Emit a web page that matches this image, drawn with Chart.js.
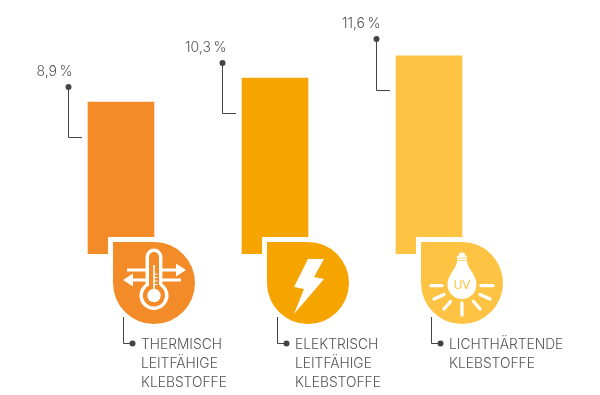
<!DOCTYPE html>
<html>
<head>
<meta charset="utf-8">
<style>
  html, body { margin: 0; padding: 0; background: #fff; }
  canvas { display: block; }
</style>
<script src="https://cdn.jsdelivr.net/npm/chart.js@4"></script>
</head>
<body>
<canvas id="chart" width="600" height="395"></canvas>
<script>
const categories = ["Thermisch leitfähige Klebstoffe", "Elektrisch leitfähige Klebstoffe", "Lichthärtende Klebstoffe"];
const shares = [8.9, 10.3, 11.6];
const valueLabels = ["8,9 %", "10,3 %", "11,6 %"];
const categoryLines = [
  ["THERMISCH", "LEITFÄHIGE", "KLEBSTOFFE"],
  ["ELEKTRISCH", "LEITFÄHIGE", "KLEBSTOFFE"],
  ["LICHTHÄRTENDE", "KLEBSTOFFE"]
];
const barColors = ["#F38B28", "#F6A400", "#FEC343"];
const iconNames = ["thermo", "bolt", "bulb"];

const textColor = "#555555";
const lineColor = "#444444";
const textFont = "300 13.8px Inter";
const valueFont = "300 14px Inter";

function drawThermo(ctx, color) {
  ctx.strokeStyle = "#fff";
  ctx.fillStyle = "#fff";
  ctx.lineWidth = 3;
  // top arrow to the right, bottom arrow to the left
  ctx.beginPath();
  ctx.moveTo(-27, -13); ctx.lineTo(24, -13);
  ctx.moveTo(27, -3); ctx.lineTo(-24, -3);
  ctx.stroke();
  ctx.beginPath();
  ctx.moveTo(22, -19.5); ctx.lineTo(32, -13); ctx.lineTo(22, -6.5); ctx.closePath();
  ctx.moveTo(-21, -9.5); ctx.lineTo(-31, -3); ctx.lineTo(-21, 3.5); ctx.closePath();
  ctx.fill();
  // thermometer body
  ctx.lineWidth = 3.4;
  ctx.beginPath();
  ctx.arc(0, -26, 6.7, Math.PI, 0);
  ctx.lineTo(6.7, 2);
  ctx.arc(0, 12.5, 12.8, -Math.PI / 2 + 0.55, -Math.PI / 2 - 0.55 + Math.PI * 2);
  ctx.closePath();
  ctx.fillStyle = color;
  ctx.fill();
  ctx.stroke();
  ctx.fillStyle = "#fff";
  ctx.beginPath();
  ctx.arc(0, 12.5, 6.7, 0, Math.PI * 2);
  ctx.fill();
  ctx.fillRect(-0.8, -18, 1.6, 28);
  ctx.lineWidth = 1;
  ctx.beginPath();
  [-9, -5.5, -2, 1.5].forEach((y) => { ctx.moveTo(0, y); ctx.lineTo(3.5, y); });
  ctx.stroke();
}

function drawBolt(ctx) {
  ctx.fillStyle = "#fff";
  ctx.beginPath();
  ctx.moveTo(0, -24); ctx.lineTo(16, -24); ctx.lineTo(6, -6); ctx.lineTo(16, -4);
  ctx.lineTo(-14, 31); ctx.lineTo(-4, 6); ctx.lineTo(-14, 4);
  ctx.closePath();
  ctx.fill();
}

function drawBulb(ctx, color) {
  ctx.fillStyle = "#fff";
  ctx.beginPath();
  ctx.moveTo(-5, -21);
  ctx.bezierCurveTo(-6, -14, -14.5, -8, -14.5, 1.5);
  ctx.arc(0, 1.5, 14.5, Math.PI, 0, true);
  ctx.bezierCurveTo(14.5, -8, 6, -14, 5, -21);
  ctx.closePath();
  ctx.fill();
  ctx.fillRect(-5, -27, 10, 7);
  ctx.beginPath();
  ctx.arc(0, -27, 3.5, Math.PI, 0);
  ctx.fill();
  ctx.strokeStyle = color;
  ctx.lineWidth = 0.7;
  ctx.beginPath();
  ctx.moveTo(-5, -24.5); ctx.lineTo(5, -25.5);
  ctx.moveTo(-5, -22); ctx.lineTo(5, -23);
  ctx.stroke();
  ctx.strokeStyle = "#fff";
  ctx.lineWidth = 3.3;
  ctx.lineCap = "round";
  ctx.beginPath();
  [[-31, 2.7, -20, 2.7], [19, 2.7, 31, 2.7], [-28, 16, -18, 11.5], [18, 11.5, 28, 16],
   [-18, 26, -11.5, 18.5], [11.5, 18.5, 18, 26], [0, 20, 0, 32]].forEach((r) => {
    ctx.moveTo(r[0], r[1]);
    ctx.lineTo(r[2], r[3]);
  });
  ctx.stroke();
  ctx.lineCap = "butt";
  ctx.fillStyle = color;
  ctx.font = "12px 'Liberation Sans'";
  ctx.textAlign = "center";
  ctx.textBaseline = "alphabetic";
  ctx.fillText("UV", 0, 6);
}

// leader lines, labels and the drop shaped badges hang off the bars
const calloutPlugin = {
  id: "callouts",
  afterDatasetsDraw(chart) {
    const ctx = chart.ctx;
    const bars = chart.getDatasetMeta(0).data;
    bars.forEach((bar, i) => {
      const right = bar.x + 33;
      const left = bar.x - 33;
      const base = bar.base;
      const color = barColors[i];
      const top = Math.round(bar.y);

      // value callout
      const dotX = left - 19.5;
      const dotY = top - (i === 2 ? 17 : 15);
      const elbowY = top + (i === 2 ? 34.5 : 35.5);
      ctx.strokeStyle = lineColor;
      ctx.lineWidth = 1;
      ctx.beginPath();
      ctx.moveTo(dotX, dotY);
      ctx.lineTo(dotX, elbowY);
      ctx.lineTo(left - 6, elbowY);
      ctx.stroke();
      ctx.fillStyle = lineColor;
      ctx.beginPath();
      ctx.arc(dotX, dotY, 3, 0, Math.PI * 2);
      ctx.fill();
      ctx.fillStyle = textColor;
      ctx.font = valueFont;
      ctx.textAlign = "right";
      ctx.textBaseline = "alphabetic";
      ctx.wordSpacing = "-1.5px";
      ctx.fillText(valueLabels[i], dotX + 4, dotY - 11);
      ctx.wordSpacing = "0px";

      // white notch cut out of the bar foot
      ctx.fillStyle = "#fff";
      ctx.fillRect(left + 20, base - 17, 47, 18);

      // badge
      const cx = right;
      const cy = base + 29;
      const r = 41;
      ctx.fillStyle = color;
      ctx.beginPath();
      ctx.moveTo(cx - r, cy - r);
      ctx.lineTo(cx, cy - r);
      ctx.arc(cx, cy, r, -Math.PI / 2, Math.PI);
      ctx.closePath();
      ctx.fill();

      ctx.save();
      ctx.translate(cx, cy);
      if (iconNames[i] === "thermo") drawThermo(ctx, color);
      if (iconNames[i] === "bolt") drawBolt(ctx);
      if (iconNames[i] === "bulb") drawBulb(ctx, color);
      ctx.restore();

      // category callout
      const lineX = cx - 30.5;
      const lineY = cy + 60.5;
      ctx.strokeStyle = lineColor;
      ctx.lineWidth = 1;
      ctx.beginPath();
      ctx.moveTo(lineX, cy + 34);
      ctx.lineTo(lineX, lineY);
      ctx.lineTo(lineX + 8, lineY);
      ctx.stroke();
      ctx.fillStyle = lineColor;
      ctx.beginPath();
      ctx.arc(lineX + 9, lineY, 3, 0, Math.PI * 2);
      ctx.fill();
      ctx.fillStyle = textColor;
      ctx.font = textFont;
      ctx.textAlign = "left";
      categoryLines[i].forEach((line, n) => {
        ctx.fillText(line, lineX + 17.5, lineY + 5 + n * 19);
      });
    });
  }
};

new Chart(document.getElementById("chart").getContext("2d"), {
  type: "bar",
  data: {
    labels: categories,
    datasets: [{
      data: shares,
      backgroundColor: barColors,
      borderWidth: 0,
      barThickness: 66
    }]
  },
  options: {
    responsive: false,
    animation: false,
    layout: { padding: { left: 44, right: 94, top: 0, bottom: 141 } },
    plugins: { legend: { display: false }, tooltip: { enabled: false } },
    scales: {
      x: { display: false },
      y: { display: false, min: 0, max: 14.87 }
    }
  },
  plugins: [calloutPlugin]
});
</script>
</body>
</html>
